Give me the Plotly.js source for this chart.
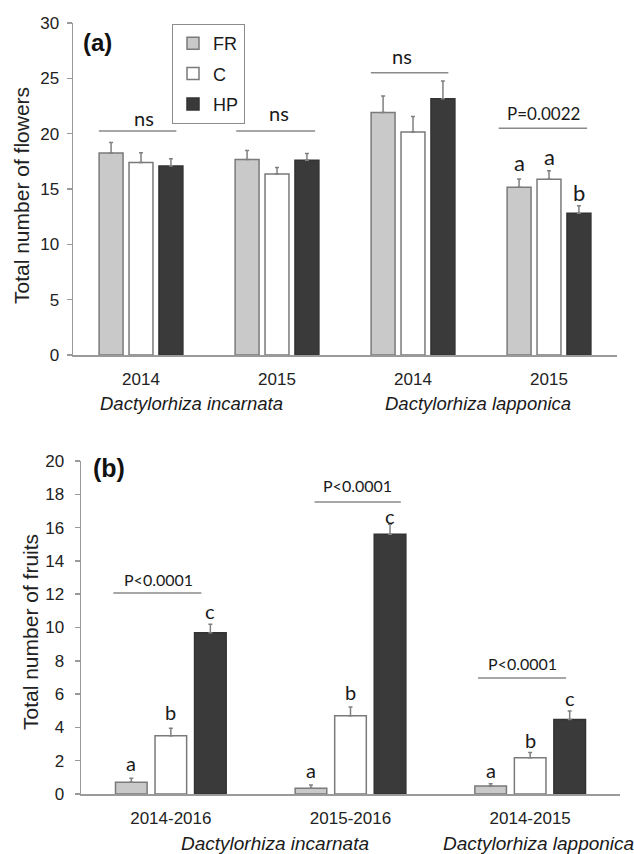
<!DOCTYPE html>
<html>
<head>
<meta charset="utf-8">
<script src="https://cdn.plot.ly/plotly-3.0.1.min.js"></script>
<style>html,body{margin:0;padding:0;background:#fff;}#chart{width:634px;height:854px;}</style>
</head>
<body>
<div id="chart"></div>
<script>
// ---------- Data: panel (a) total number of flowers ----------
const groupLabelsA = ['2014', '2015', '2014', '2015'];
const flowersFR = [18.25, 17.67, 21.92, 15.15];
const flowersC  = [17.40, 16.35, 20.14, 15.87];
const flowersHP = [17.07, 17.60, 23.15, 12.80];
const flowersErrFR = [0.95, 0.81, 1.48, 0.75];
const flowersErrC  = [0.87, 0.60, 1.42, 0.78];
const flowersErrHP = [0.66, 0.60, 1.60, 0.69];
const sigTextA   = ['ns', 'ns', 'ns', 'P=0.0022'];
const sigLineYA  = [20.24, 20.24, 25.5, 20.5];
const sigTextYA  = [21.4, 21.85, 27.0, 21.86];
const lettersA_group = 3;
const lettersA      = ['a', 'a', 'b'];
const lettersA_y    = [17.43, 17.98, 14.72];

// ---------- Data: panel (b) total number of fruits ----------
const groupLabelsB = ['2014-2016', '2015-2016', '2014-2015'];
const fruitsFR = [0.70, 0.34, 0.48];
const fruitsC  = [3.50, 4.70, 2.18];
const fruitsHP = [9.69, 15.60, 4.48];
const fruitsErrFR = [0.24, 0.20, 0.14];
const fruitsErrC  = [0.45, 0.52, 0.32];
const fruitsErrHP = [0.50, 0.60, 0.50];
const sigTextB  = ['P<0.0001', 'P<0.0001', 'P<0.0001'];
const sigLineYB = [12.07, 17.54, 6.97];
const sigTextYB = [12.91, 18.5, 7.81];
const lettersB_FR = ['a', 'a', 'a'];
const lettersB_C  = ['b', 'b', 'b'];
const lettersB_HP = ['c', 'c', 'c'];
const lettersB_FR_y = [1.86, 1.44, 1.44];
const lettersB_C_y  = [4.92, 6.13, 3.24];
const lettersB_HP_y = [10.99, 16.7, 5.77];

const seriesNames = ['FR', 'C', 'HP'];
const speciesNames = ['Dactylorhiza incarnata', 'Dactylorhiza lapponica'];

// ---------- Styles ----------
const W = 634, H = 854;
const fills = ['#c9c9c9', '#ffffff', '#3a3a3a'];
const edges = ['#7a7a7a', '#7a7a7a', '#333333'];
const axisCol = '#9a9a9a';
const txtCol = '#1a1a1a';
const arial = 'Liberation Sans, Arial, sans-serif';
const calib = 'Lato, Open Sans, sans-serif';
const bargap = 0.34;
const slot = (1 - bargap) / 3;

const idxA = groupLabelsA.map((_, i) => i);
const idxB = groupLabelsB.map((_, i) => i);

function barTrace(k, x, y, err, xa, ya, showleg) {
  return {
    type: 'bar', name: seriesNames[k], x: x, y: y,
    xaxis: xa, yaxis: ya, showlegend: showleg, legendgroup: seriesNames[k],
    marker: {color: fills[k], line: {color: edges[k], width: 1.5}},
    error_y: {type: 'data', symmetric: false, array: err, arrayminus: err.map(() => 0),
              color: '#808080', thickness: 1.5, width: 2},
    hoverinfo: 'y'
  };
}

const data = [
  barTrace(0, idxA, flowersFR, flowersErrFR, 'x', 'y', true),
  barTrace(1, idxA, flowersC, flowersErrC, 'x', 'y', true),
  barTrace(2, idxA, flowersHP, flowersErrHP, 'x', 'y', true),
  barTrace(0, idxB, fruitsFR, fruitsErrFR, 'x2', 'y2', false),
  barTrace(1, idxB, fruitsC, fruitsErrC, 'x2', 'y2', false),
  barTrace(2, idxB, fruitsHP, fruitsErrHP, 'x2', 'y2', false)
];

// significance line extents (offsets from group centre, in group units)
const sigX0A = [-0.31, -0.30, -0.31, -0.37], sigX1A = [0.26, 0.28, 0.26, 0.28];
const sigTxA = [0.02, 0.015, -0.08, -0.04];
const sigX0B = [-0.32, -0.20, -0.29], sigX1B = [0.17, 0.28, 0.20];
const sigTxB = [-0.067, 0.04, -0.04];

const shapes = [];
const annotations = [];
idxA.forEach(i => {
  shapes.push({type: 'line', xref: 'x', yref: 'y', x0: i + sigX0A[i], x1: i + sigX1A[i],
               y0: sigLineYA[i], y1: sigLineYA[i], line: {color: '#8a8a8a', width: 1.5}});
  annotations.push({xref: 'x', yref: 'y', x: i + sigTxA[i], y: sigTextYA[i], text: sigTextA[i],
                    showarrow: false, xanchor: 'center', yanchor: 'middle',
                    font: {family: calib, size: sigTextA[i] === 'ns' ? 20 : 17, color: txtCol}});
});
idxB.forEach(i => {
  shapes.push({type: 'line', xref: 'x2', yref: 'y2', x0: i + sigX0B[i], x1: i + sigX1B[i],
               y0: sigLineYB[i], y1: sigLineYB[i], line: {color: '#8a8a8a', width: 1.5}});
  annotations.push({xref: 'x2', yref: 'y2', x: i + sigTxB[i], y: sigTextYB[i], text: sigTextB[i],
                    showarrow: false, xanchor: 'center', yanchor: 'middle',
                    font: {family: calib, size: 16, color: txtCol}});
});
lettersA.forEach((t, k) => {
  annotations.push({xref: 'x', yref: 'y', x: lettersA_group + (k - 1) * slot, y: lettersA_y[k], text: t,
                    showarrow: false, xanchor: 'center', yanchor: 'middle',
                    font: {family: calib, size: 22, color: txtCol}});
});
[[lettersB_FR, lettersB_FR_y], [lettersB_C, lettersB_C_y], [lettersB_HP, lettersB_HP_y]].forEach((pair, k) => {
  pair[0].forEach((t, i) => {
    annotations.push({xref: 'x2', yref: 'y2', x: i + (k - 1) * slot, y: pair[1][i], text: t,
                      showarrow: false, xanchor: 'center', yanchor: 'middle',
                      font: {family: calib, size: 20, color: txtCol}});
  });
});
// panel labels
annotations.push({xref: 'paper', yref: 'paper', x: 81 / W, y: 1 - 43 / H, text: '<b>(a)</b>',
                  showarrow: false, xanchor: 'left', yanchor: 'middle', font: {family: arial, size: 24, color: '#111'}});
annotations.push({xref: 'paper', yref: 'paper', x: 91 / W, y: 1 - 468 / H, text: '<b>(b)</b>',
                  showarrow: false, xanchor: 'left', yanchor: 'middle', font: {family: arial, size: 25, color: '#111'}});
// y axis titles
annotations.push({xref: 'paper', yref: 'paper', x: 21 / W, y: 1 - 196 / H, text: 'Total number of flowers',
                  textangle: -90, showarrow: false, xanchor: 'center', yanchor: 'middle',
                  font: {family: arial, size: 21, color: '#222'}});
annotations.push({xref: 'paper', yref: 'paper', x: 30 / W, y: 1 - 632 / H, text: 'Total number of fruits',
                  textangle: -90, showarrow: false, xanchor: 'center', yanchor: 'middle',
                  font: {family: arial, size: 21, color: '#222'}});
// species labels
const spA_x = [191, 478], spB_x = [275, 538];
speciesNames.forEach((s, i) => {
  annotations.push({xref: 'paper', yref: 'paper', x: spA_x[i] / W, y: 1 - 403 / H, text: '<i>' + s + '</i>',
                    showarrow: false, xanchor: 'center', yanchor: 'middle', font: {family: arial, size: 18.5, color: '#1a1a1a'}});
  annotations.push({xref: 'paper', yref: 'paper', x: spB_x[i] / W, y: 1 - 843 / H, text: '<i>' + s + '</i>',
                    showarrow: false, xanchor: 'center', yanchor: 'middle', font: {family: arial, size: 19, color: '#1a1a1a'}});
});

const xBase = {showline: true, linecolor: axisCol, linewidth: 1.5, ticks: '', showgrid: false,
               zeroline: false, tickfont: {family: arial, size: 17, color: '#222'}, ticklabelstandoff: 8, fixedrange: true};
const yBase = {showline: true, linecolor: axisCol, linewidth: 1.5, ticks: 'outside', ticklen: 5, tickwidth: 1.5,
               tickcolor: axisCol, showgrid: false, zeroline: false,
               tickfont: {family: arial, size: 17, color: '#222'}, fixedrange: true};

const layout = {
  width: W, height: H,
  margin: {l: 0, r: 0, t: 0, b: 0},
  paper_bgcolor: '#fff', plot_bgcolor: '#fff',
  barmode: 'group', bargap: bargap, bargroupgap: 0.2,
  showlegend: true,
  legend: {x: 172 / W, y: 1 - 24 / H, xanchor: 'left', yanchor: 'top', bgcolor: '#fff',
           bordercolor: '#8c8c8c', borderwidth: 1, tracegroupgap: 4,
           font: {family: arial, size: 18, color: '#1a1a1a'}, traceorder: 'grouped'},
  xaxis: Object.assign({}, xBase, {domain: [73 / W, 617 / W], anchor: 'y', range: [-0.5, 3.5],
                       tickvals: idxA, ticktext: groupLabelsA}),
  yaxis: Object.assign({}, yBase, {domain: [1 - 355 / H, 1 - 23 / H], anchor: 'x', range: [0, 30], dtick: 5,
                       ticklabelstandoff: 4}),
  xaxis2: Object.assign({}, xBase, {domain: [81 / W, 620 / W], anchor: 'y2', range: [-0.5, 2.5],
                        tickvals: idxB, ticktext: groupLabelsB}),
  yaxis2: Object.assign({}, yBase, {domain: [1 - 794 / H, 1 - 461 / H], anchor: 'x2', range: [0, 20], dtick: 2,
                        ticklabelstandoff: 7}),
  shapes: shapes,
  annotations: annotations
};

Plotly.newPlot('chart', data, layout, {displayModeBar: false, staticPlot: true});
</script>
</body>
</html>
